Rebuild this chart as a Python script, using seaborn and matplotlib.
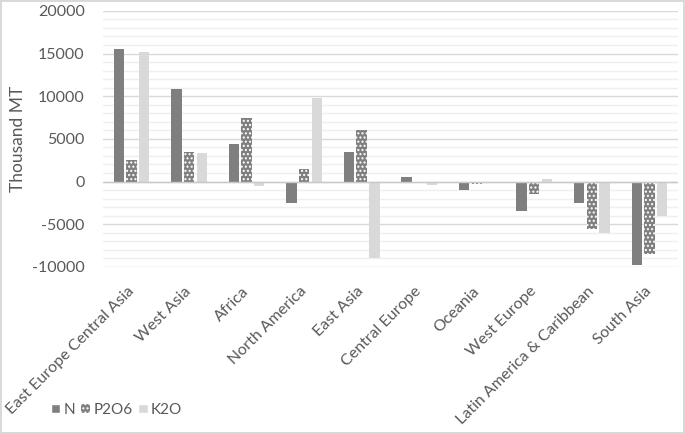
import numpy as np
import pandas as pd
import seaborn as sns
import matplotlib.pyplot as plt
from matplotlib.patches import Patch
from matplotlib.ticker import MultipleLocator

regions = ["East Europe Central Asia", "West Asia", "Africa", "North America",
           "East Asia", "Central Europe", "Oceania", "West Europe",
           "Latin America & Caribbean", "South Asia"]
n_vals = [15500, 10800, 4400, -2500, 3500, 500, -1000, -3500, -2500, -9800]
p_vals = [2500, 3500, 7500, 1500, 6000, -150, -250, -1500, -5600, -8500]
k_vals = [15200, 3300, -500, 9800, -9000, -400, 0, 350, -6000, -4000]
nutrients = ["N", "P2O6", "K2O"]

df = pd.DataFrame({
    "region": regions * 3,
    "nutrient": [nutrients[0]] * 10 + [nutrients[1]] * 10 + [nutrients[2]] * 10,
    "value": n_vals + p_vals + k_vals,
})

sns.set_style("white")
plt.rcParams["font.family"] = ["Lato", "DejaVu Sans"]
plt.rcParams["axes.unicode_minus"] = False
plt.rcParams["hatch.color"] = "white"
plt.rcParams["hatch.linewidth"] = 1.0

txt = "#595959"
colors = {"N": "#7f7f7f", "P2O6": "#7f7f7f", "K2O": "#d9d9d9"}

fig = plt.figure(figsize=(6.85, 4.34), dpi=100, linewidth=1.5, edgecolor="#d9d9d9")
ax = fig.add_axes([0.150, 0.385, 0.840, 0.590])

sns.barplot(data=df, x="region", y="value", hue="nutrient", palette=colors,
            width=0.66, gap=0.18, ax=ax, legend=False, linewidth=0,
            errorbar=None)

# dotted pattern on the P2O6 bars
for bar in ax.containers[1]:
    bar.set_hatch("....")
    bar.set_edgecolor("white")
    bar.set_linewidth(0)

ax.set_ylim(-10000, 20000)
ax.set_xlim(-0.5, len(regions) - 0.5)
ax.yaxis.set_major_locator(MultipleLocator(5000))
ax.yaxis.set_minor_locator(MultipleLocator(1000))
ax.grid(axis="y", which="major", color="#d9d9d9", linewidth=1)
ax.grid(axis="y", which="minor", color="#efefef", linewidth=1)
ax.set_axisbelow(True)
ax.axhline(0, color="#c8c8c8", linewidth=1, zorder=1)

for s in ax.spines.values():
    s.set_visible(False)

ax.tick_params(axis="both", length=0, labelsize=11.5, labelcolor=txt)
ax.tick_params(axis="y", pad=13)
ax.set_xlabel("")
ax.set_ylabel("Thousand MT", fontsize=12.5, color=txt, labelpad=4)
plt.setp(ax.get_xticklabels(), rotation=45, ha="right", va="center",
         rotation_mode="anchor")
ax.tick_params(axis="x", pad=16)

handles = [Patch(facecolor="#7f7f7f"),
           Patch(facecolor="#7f7f7f", hatch="....", edgecolor="white", linewidth=0),
           Patch(facecolor="#d9d9d9")]
fig.legend(handles, nutrients, loc="center left",
           bbox_to_anchor=(51 / 685, 1 - 410 / 434), ncol=3, frameon=False,
           borderpad=0, borderaxespad=0,
           handlelength=0.6, handleheight=0.6, handletextpad=0.2,
           columnspacing=0.4, fontsize=11, labelcolor=txt)

fig.savefig("out.png", dpi=100, edgecolor=fig.get_edgecolor())
